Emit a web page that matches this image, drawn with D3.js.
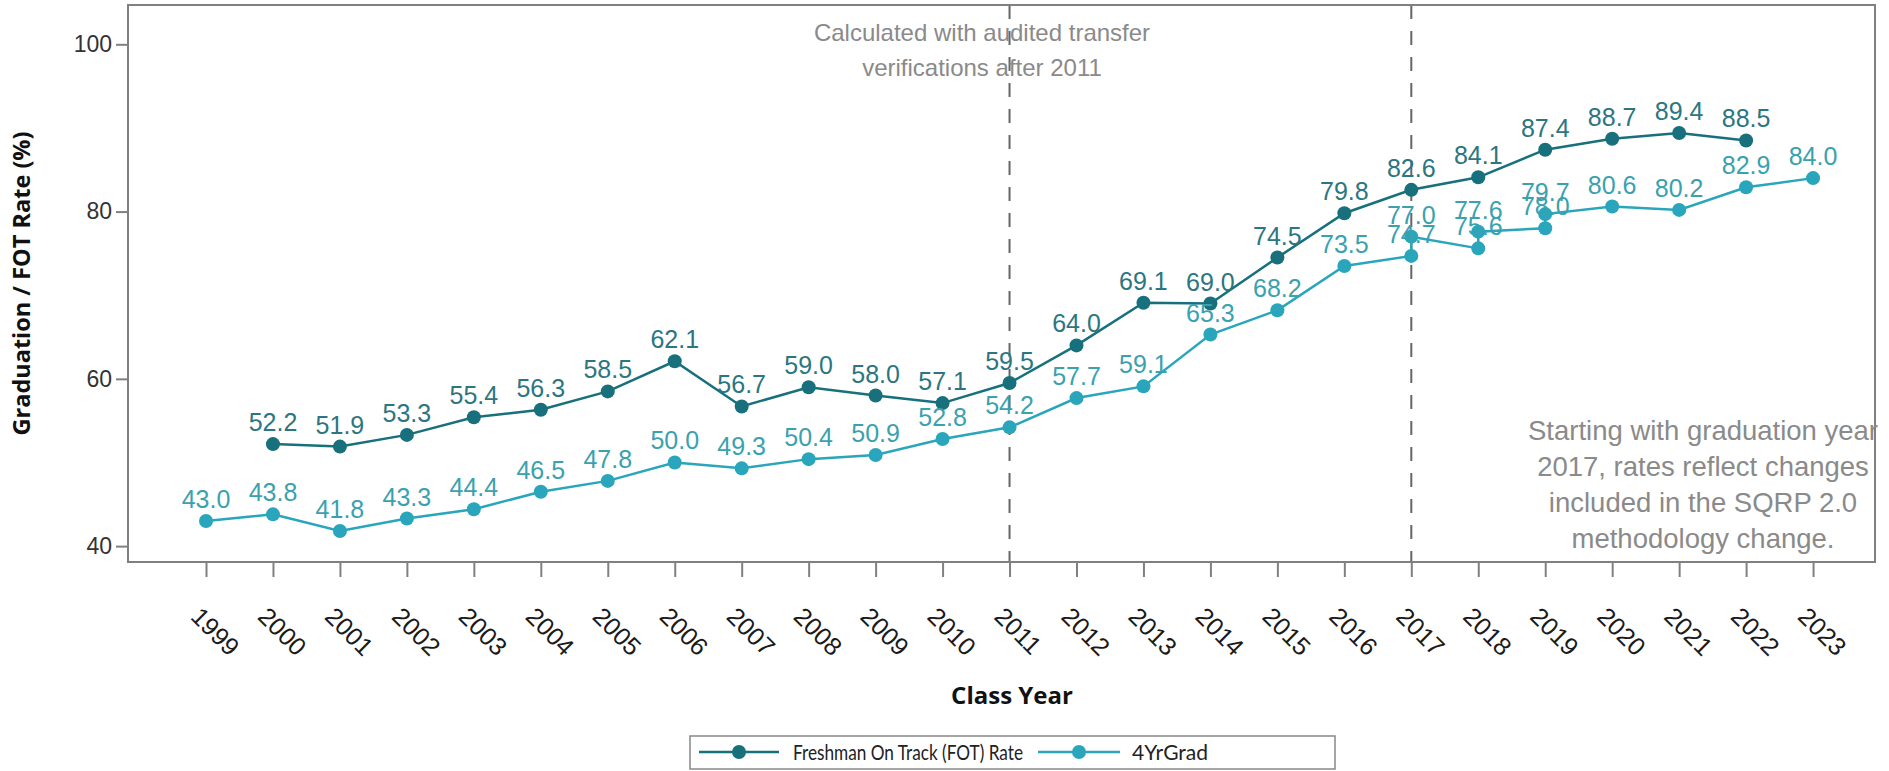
<!DOCTYPE html>
<html>
<head>
<meta charset="utf-8">
<script src="https://cdn.jsdelivr.net/npm/d3@7"></script>
<style>
  html, body { margin: 0; padding: 0; background: #fff; }
  svg { display: block; }
</style>
</head>
<body>
<svg id="chart" width="1889" height="771"></svg>
<script>
// Freshman On Track rate, class years 2000–2022
const fotYears  = [2000, 2001, 2002, 2003, 2004, 2005, 2006, 2007, 2008, 2009, 2010, 2011,
                   2012, 2013, 2014, 2015, 2016, 2017, 2018, 2019, 2020, 2021, 2022];
const fotValues = [52.2, 51.9, 53.3, 55.4, 56.3, 58.5, 62.1, 56.7, 59.0, 58.0, 57.1, 59.5,
                   64.0, 69.1, 69.0, 74.5, 79.8, 82.6, 84.1, 87.4, 88.7, 89.4, 88.5];

// Four-year graduation rate; 2017–2019 carry both the earlier and the SQRP 2.0 figure
const gradYears  = [1999, 2000, 2001, 2002, 2003, 2004, 2005, 2006, 2007, 2008, 2009, 2010,
                    2011, 2012, 2013, 2014, 2015, 2016, 2017, 2017, 2018, 2018, 2019, 2019,
                    2020, 2021, 2022, 2023];
const gradValues = [43.0, 43.8, 41.8, 43.3, 44.4, 46.5, 47.8, 50.0, 49.3, 50.4, 50.9, 52.8,
                    54.2, 57.7, 59.1, 65.3, 68.2, 73.5, 74.7, 77.0, 75.6, 77.6, 78.0, 79.7,
                    80.6, 80.2, 82.9, 84.0];

const classYears = d3.range(1999, 2024);
const yTicks = [40, 60, 80, 100];
const markerYears = [2011, 2017];

const seriesNames = ["Freshman On Track (FOT) Rate", "4YrGrad"];
const noteTop = ["Calculated with audited transfer", "verifications after 2011"];
const noteRight = ["Starting with graduation year", "2017, rates reflect changes",
                   "included in the SQRP 2.0", "methodology change."];

const fotColor = "#17707c", fotLabel = "#2b7680";
const gradColor = "#29a6bb", gradLabel = "#3aa1af";

const svg = d3.select("#chart");
const plot = { left: 128, top: 5, right: 1875, bottom: 562 };

const x = d3.scaleLinear()
  .domain([1999 - 1.165, 2023 + 0.925])
  .range([plot.left, plot.right]);
const y = d3.scaleLinear()
  .domain([38.1, 104.7])
  .range([plot.bottom, plot.top]);

const fot = fotYears.map((yr, i) => ({ year: yr, value: fotValues[i] }));
const grad = gradYears.map((yr, i) => ({ year: yr, value: gradValues[i] }));

// reference lines for methodology changes
svg.append("g").selectAll("line")
  .data(markerYears).join("line")
  .attr("x1", d => x(d)).attr("x2", d => x(d))
  .attr("y1", plot.top).attr("y2", plot.bottom)
  .attr("stroke", "#666").attr("stroke-width", 2)
  .attr("stroke-dasharray", "14,12");

// frame
svg.append("rect")
  .attr("x", plot.left).attr("y", plot.top)
  .attr("width", plot.right - plot.left).attr("height", plot.bottom - plot.top)
  .attr("fill", "none").attr("stroke", "#808080").attr("stroke-width", 2);

// y axis
const yAxis = svg.append("g")
  .attr("transform", `translate(${plot.left},0)`)
  .call(d3.axisLeft(y).tickValues(yTicks).tickSize(12).tickPadding(4));
yAxis.select(".domain").remove();
yAxis.selectAll(".tick line").attr("stroke", "#808080").attr("stroke-width", 2);
yAxis.selectAll(".tick text")
  .attr("fill", "#333").attr("font-size", 23)
  .attr("font-family", "Liberation Sans, Arial, sans-serif");

// x axis
const xAxis = svg.append("g")
  .attr("transform", `translate(0,${plot.bottom})`)
  .call(d3.axisBottom(x).tickValues(classYears).tickFormat(d3.format("d")).tickSize(15));
xAxis.select(".domain").remove();
xAxis.selectAll(".tick line").attr("stroke", "#808080").attr("stroke-width", 2);
xAxis.selectAll(".tick text")
  .attr("x", 0).attr("y", 0).attr("dy", 0)
  .attr("text-anchor", "start")
  .attr("transform", "translate(-17,56) rotate(45)")
  .attr("fill", "#1a1a1a").attr("font-size", 25)
  .attr("font-family", "Liberation Sans, Arial, sans-serif");

// axis titles
svg.append("text")
  .attr("x", 1012).attr("y", 704)
  .attr("text-anchor", "middle")
  .attr("font-family", "Open Sans, sans-serif").attr("font-weight", 700)
  .attr("font-size", 24).attr("fill", "#111")
  .text("Class Year");
svg.append("text")
  .attr("transform", `translate(30,${(plot.top + plot.bottom) / 2}) rotate(-90)`)
  .attr("text-anchor", "middle")
  .attr("font-family", "Open Sans, sans-serif").attr("font-weight", 700)
  .attr("font-size", 23.5).attr("fill", "#111")
  .text("Graduation / FOT Rate (%)");

// annotations
const noteFont = "Liberation Sans, Arial, sans-serif";
svg.append("text")
  .attr("font-family", noteFont).attr("font-size", 24)
  .attr("fill", "#8a8a8a").attr("text-anchor", "middle")
  .selectAll("tspan").data(noteTop).join("tspan")
  .attr("x", 982).attr("y", (d, i) => 41 + i * 35)
  .text(d => d);
svg.append("text")
  .attr("font-family", noteFont).attr("font-size", 27.5)
  .attr("fill", "#8a8a8a").attr("text-anchor", "middle")
  .selectAll("tspan").data(noteRight).join("tspan")
  .attr("x", 1703).attr("y", (d, i) => 440 + i * 36)
  .text(d => d);

// series
const line = d3.line().x(d => x(d.year)).y(d => y(d.value));
function drawSeries(data, color) {
  const g = svg.append("g");
  g.append("path").datum(data)
    .attr("d", line).attr("fill", "none")
    .attr("stroke", color).attr("stroke-width", 2.5);
  g.selectAll("circle").data(data).join("circle")
    .attr("cx", d => x(d.year)).attr("cy", d => y(d.value))
    .attr("r", 7).attr("fill", color);
}
drawSeries(grad, gradColor);
drawSeries(fot, fotColor);

function drawLabels(data, labelColor) {
  svg.append("g").selectAll("text").data(data).join("text")
    .attr("x", d => x(d.year)).attr("y", d => y(d.value) - 13)
    .attr("text-anchor", "middle")
    .attr("font-family", "Liberation Sans, Arial, sans-serif")
    .attr("font-size", 25).attr("fill", labelColor)
    .text(d => d.value.toFixed(1));
}
drawLabels(grad, gradLabel);
drawLabels(fot, fotLabel);

// legend
const legend = svg.append("g");
legend.append("rect")
  .attr("x", 690).attr("y", 736).attr("width", 645).attr("height", 33)
  .attr("fill", "#fff").attr("stroke", "#888").attr("stroke-width", 1.5);
const legendItems = [
  { name: seriesNames[0], color: fotColor, x0: 699, x1: 779, tx: 793, w: 230 },
  { name: seriesNames[1], color: gradColor, x0: 1038, x1: 1120, tx: 1132, w: 76 }
];
legendItems.forEach(it => {
  legend.append("line")
    .attr("x1", it.x0).attr("x2", it.x1).attr("y1", 752).attr("y2", 752)
    .attr("stroke", it.color).attr("stroke-width", 2.5);
  legend.append("circle")
    .attr("cx", (it.x0 + it.x1) / 2).attr("cy", 752).attr("r", 7).attr("fill", it.color);
  legend.append("text")
    .attr("x", it.tx).attr("y", 759.5)
    .attr("font-family", "Lato, sans-serif").attr("font-size", 21).attr("fill", "#222")
    .attr("textLength", it.w).attr("lengthAdjust", "spacingAndGlyphs")
    .text(it.name);
});
</script>
</body>
</html>
